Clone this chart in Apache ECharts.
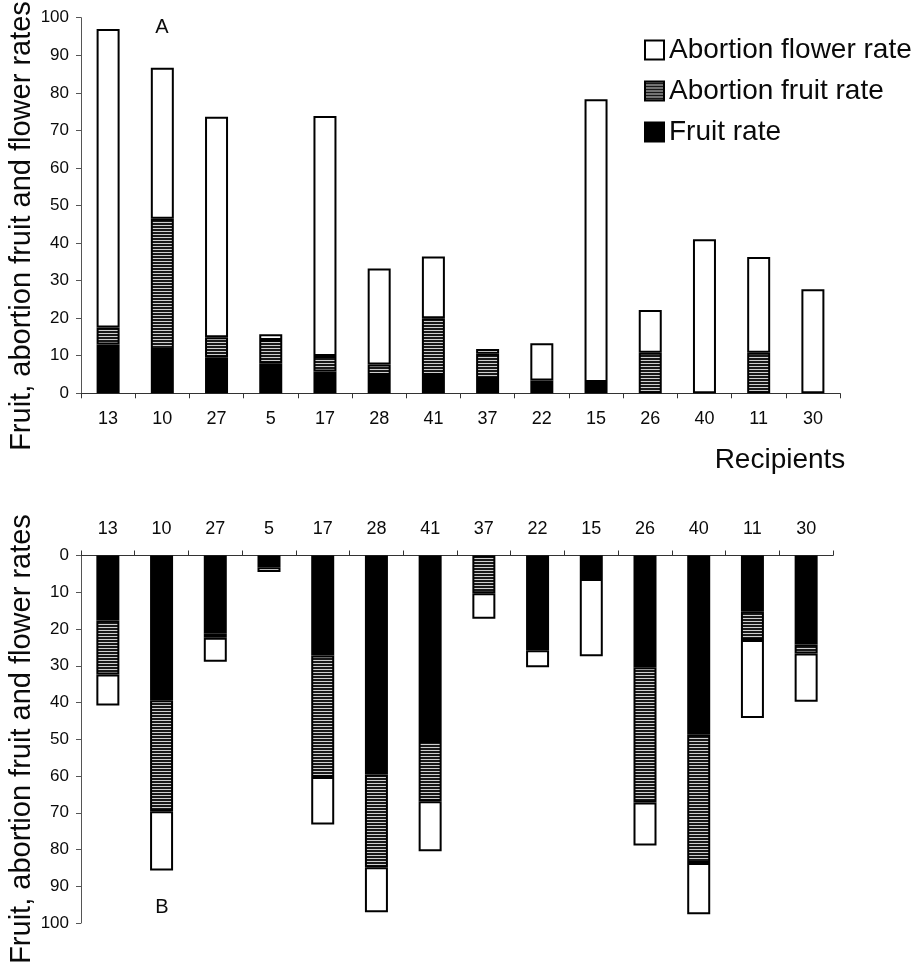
<!DOCTYPE html>
<html><head><meta charset="utf-8">
<script src="https://cdn.jsdelivr.net/npm/echarts@6/dist/echarts.min.js"></script>
<style>html,body{margin:0;padding:0;background:#fff}#c{width:923px;height:962px}</style>
</head><body><div id="c"></div>
<script>
// Recipients (same order in both panels)
const recipients = ['13','10','27','5','17','28','41','37','22','15','26','40','11','30'];
// Panel A
const fruitA       = [13, 11.5, 9.6, 8, 5.8, 4.9, 4.9, 3.8, 3.4, 3, null, null, null, null];
const abortFruitA  = [4.5, 35, 5.3, 6.2, 4.1, 2.8, 15.1, 6.7, null, null, 10.8, null, 10.8, null];
const abortFlowerA = [79.5, 40.2, 58.7, 1.5, 63.9, 25.5, 16.4, 1.3, 9.9, 75.3, 11.4, 41, 25.5, 27.7];
// Panel B
const fruitB       = [17.7, 39.4, 21.3, 3.2, 27.2, 59.6, 50.5, null, 25.8, 6.4, 30.4, 48.8, 15.2, 24.2];
const abortFruitB  = [14.7, 30.2, 1.1, null, 33.1, 25.2, 16.4, 10.3, null, null, 36.8, 34.9, 7.8, 2.5];
const abortFlowerB = [8.4, 16.1, 6.5, 1.3, 12.9, 12.3, 13.6, 6.9, 4.6, 21, 11.7, 13.9, 21.2, 13.1];
// Axis
const yMin = 0, yMax = 100, yStep = 10;
const yTitle = 'Fruit, abortion fruit and flower rates';
const xTitle = 'Recipients';
const names = ['Abortion flower rate', 'Abortion fruit rate', 'Fruit rate'];

function makeHatch() {
  const c = document.createElement('canvas');
  c.width = 6; c.height = 3;
  const g = c.getContext('2d');
  g.fillStyle = '#181818'; g.fillRect(0, 0, 6, 3);
  g.fillStyle = '#cfcfcf'; g.fillRect(0, 0, 6, 1);
  return c;
}
const hatch = { image: makeHatch(), repeat: 'repeat' };
const FONT = 'Liberation Sans, Arial, sans-serif';
const txt = '#0a0a0a';

const styles = {
  'Fruit rate': { color: '#000', borderColor: '#000', borderWidth: 2 },
  'Abortion fruit rate': { color: hatch, borderColor: '#000', borderWidth: 2 },
  'Abortion flower rate': { color: '#fff', borderColor: '#000', borderWidth: 2 }
};

function bar(name, data, idx, stack) {
  return {
    type: 'bar', name, data, xAxisIndex: idx, yAxisIndex: idx, stack,
    barWidth: 23, itemStyle: styles[name], emphasis: { disabled: true }
  };
}

const xAxisCommon = {
  type: 'category', data: recipients,
  axisLine: { lineStyle: { color: '#333', width: 1 } },
  axisTick: { show: true, length: 5, alignWithLabel: false, lineStyle: { color: '#333' } },
  axisLabel: { fontSize: 18, color: txt, fontFamily: FONT, margin: 17 }
};
const yAxisCommon = {
  type: 'value', min: yMin, max: yMax, interval: yStep,
  splitLine: { show: false },
  axisLine: { show: true, lineStyle: { color: '#555', width: 1 } },
  axisTick: { show: true, length: 5, lineStyle: { color: '#555' } },
  axisLabel: { fontSize: 17, color: txt, fontFamily: FONT, margin: 12 }
};

const chart = echarts.init(document.getElementById('c'), null, { renderer: 'canvas' });
chart.setOption({
  animation: false,
  backgroundColor: '#fff',
  grid: [
    { left: 81, top: 17.7, width: 759, height: 375.6 },
    { left: 81, top: 555.5, width: 752, height: 367.5 }
  ],
  xAxis: [
    Object.assign({}, xAxisCommon, { gridIndex: 0, position: 'bottom' }),
    Object.assign({}, xAxisCommon, { gridIndex: 1, position: 'top' })
  ],
  yAxis: [
    Object.assign({}, yAxisCommon, { gridIndex: 0 }),
    Object.assign({}, yAxisCommon, { gridIndex: 1, inverse: true })
  ],
  legend: {
    left: 644, top: 36, orient: 'vertical', padding: 0,
    itemWidth: 19, itemHeight: 19, itemGap: 13,
    icon: 'rect',
    selectedMode: false,
    textStyle: { fontSize: 28, lineHeight: 28, color: txt, fontFamily: FONT, padding: [0, 0, 0, 0] },
    data: names.map(n => ({ name: n, itemStyle: styles[n] }))
  },
  graphic: [
    { type: 'text', x: 22, y: 226, rotation: Math.PI / 2,
      style: { text: yTitle, fontSize: 29, fontFamily: FONT, fill: txt, align: 'center', verticalAlign: 'middle' } },
    { type: 'text', x: 22, y: 739, rotation: Math.PI / 2,
      style: { text: yTitle, fontSize: 29, fontFamily: FONT, fill: txt, align: 'center', verticalAlign: 'middle' } },
    { type: 'text', x: 780, y: 460,
      style: { text: xTitle, fontSize: 28, fontFamily: FONT, fill: txt, align: 'center', verticalAlign: 'middle' } },
    { type: 'text', x: 162, y: 27,
      style: { text: 'A', fontSize: 20, fontFamily: FONT, fill: txt, align: 'center', verticalAlign: 'middle' } },
    { type: 'text', x: 162, y: 907,
      style: { text: 'B', fontSize: 20, fontFamily: FONT, fill: txt, align: 'center', verticalAlign: 'middle' } }
  ],
  series: [
    bar('Fruit rate', fruitA, 0, 'A'),
    bar('Abortion fruit rate', abortFruitA, 0, 'A'),
    bar('Abortion flower rate', abortFlowerA, 0, 'A'),
    bar('Fruit rate', fruitB, 1, 'B'),
    bar('Abortion fruit rate', abortFruitB, 1, 'B'),
    bar('Abortion flower rate', abortFlowerB, 1, 'B')
  ]
});
</script>
</body></html>
